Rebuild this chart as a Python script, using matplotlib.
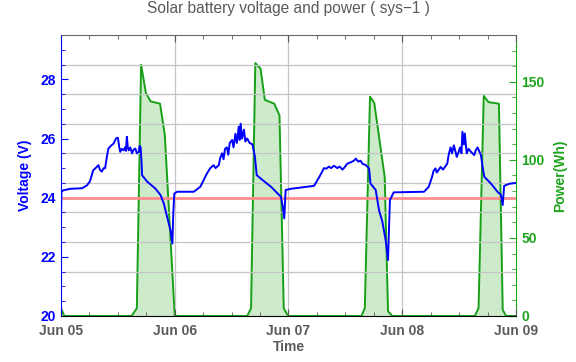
import pandas as pd
import matplotlib
matplotlib.use('Agg')
from matplotlib import pyplot as plt
import matplotlib.dates as mdates
from matplotlib.ticker import MultipleLocator

plt.rcParams['font.family'] = ['Liberation Sans', 'DejaVu Sans']

START = pd.Timestamp('2016-06-05')

# battery voltage, hours since Jun 05 00:00
volt_hours = [0.0, 0.1, 0.5, 2.0, 4.5, 5.5, 6.1, 6.8, 7.3, 7.9, 8.2, 8.6, 9.0, 9.3, 9.7,
              10.0, 10.5, 11.1, 11.6, 12.0, 12.3, 12.5, 12.8, 13.2, 13.5, 13.7, 13.9,
              14.1, 14.3, 14.6, 15.0, 15.3, 15.7, 16.0, 16.4, 16.6, 16.8, 17.0, 17.1,
              18.2, 19.9, 21.0, 21.7, 22.0, 22.4, 23.1, 23.5, 23.7, 23.9, 24.5, 28.0,
              29.4, 30.8, 31.5, 32.2, 32.6, 33.3, 33.6, 34.0, 34.3, 34.6, 35.0, 35.3,
              35.6, 36.1, 36.4, 36.8, 37.1, 37.5, 37.7, 37.9, 38.2, 38.6, 38.9, 39.3,
              39.8, 40.4, 40.9, 41.3, 42.5, 44.3, 45.7, 46.4, 46.8, 47.1, 47.4, 48.5,
              53.4, 54.5, 55.5, 56.0, 56.5, 57.0, 57.6, 58.3, 58.8, 59.4, 59.8, 60.4,
              61.2, 61.8, 62.2, 62.7, 63.2, 63.6, 64.3, 65.0, 65.3, 66.4, 67.1, 67.8,
              68.5, 69.0, 69.4, 70.2, 76.6, 77.6, 78.3, 78.6, 79.0, 79.3, 80.1, 80.6,
              81.5, 81.8, 82.2, 82.5, 82.9, 83.5, 83.9, 84.2, 84.5, 84.7, 85.0, 85.2,
              85.6, 86.0, 86.5, 87.2, 87.5, 87.9, 88.3, 88.6, 89.0, 89.3, 90.7, 92.1,
              92.8, 93.2, 93.5, 94.6, 96.0]
voltage = [23.3, 24.2, 24.25, 24.3, 24.32, 24.42, 24.55, 24.93, 25.0, 25.1, 24.95, 24.88,
           25.0, 24.99, 25.4, 25.66, 25.75, 25.83, 26.0, 26.03, 25.7, 25.55, 25.65, 25.6,
           25.7, 25.58, 26.06, 25.7, 25.6, 25.7, 25.5, 25.62, 25.66, 25.5, 25.55, 25.75,
           25.7, 25.2, 24.76, 24.54, 24.31, 24.09, 23.8, 23.6, 23.35, 22.9, 22.45, 23.5,
           24.14, 24.2, 24.2, 24.37, 24.82, 25.0, 25.1, 25.0, 25.1, 25.35, 25.5, 25.3,
           25.65, 25.7, 25.45, 25.85, 25.95, 25.7, 26.16, 25.85, 26.4, 25.95, 26.5, 26.0,
           26.3, 25.9, 26.0, 25.85, 25.8, 25.4, 24.76, 24.6, 24.37, 24.14, 24.03, 23.7,
           23.3, 24.26, 24.3, 24.4, 24.7, 25.0, 24.98, 25.05, 25.0, 25.08, 25.0, 25.05,
           24.95, 25.02, 25.15, 25.2, 25.25, 25.32, 25.22, 25.25, 25.15, 25.1, 24.99,
           24.48, 24.26, 23.58, 23.19, 22.57, 21.89, 23.92, 24.18, 24.2, 24.37, 24.71,
           24.9, 24.99, 24.85, 25.04, 24.95, 25.15, 25.45, 25.7, 25.5, 25.77, 25.38,
           25.55, 25.7, 25.5, 26.23, 25.8, 26.17, 25.5, 25.65, 25.55, 25.44, 25.6, 25.7,
           25.55, 25.44, 25.0, 24.71, 24.48, 24.2, 24.1, 23.75, 24.4, 24.47, 24.5]

# solar power
power_hours = [0.0, 0.7, 14.9, 16.0, 16.9, 17.9, 18.9, 20.9, 21.9, 24.0,
               39.3, 40.1, 41.0, 42.1, 43.0, 45.0, 46.1, 47.0, 47.9,
               63.4, 64.1, 65.2, 66.1, 68.3, 69.0, 69.9,
               87.3, 88.1, 89.2, 90.2, 92.4, 93.2, 93.9, 96.0]
power = [5, 0, 0, 5, 161, 143, 137.5, 136, 116, 0,
         0, 5, 162, 158.5, 138.5, 136, 128.5, 5, 0,
         0, 5, 140.5, 136.5, 89, 3, 0,
         0, 5, 141, 137, 136, 4, 0, 0]

voltage_limit = 24
grid_levels = [21.5, 22.5, 23.5, 24.5, 25.5, 26.5, 27.5, 28.5]

BLUE = '#0000ff'
GREEN = '#1ea51e'
GRAY = '#5a5a5a'

t_volt = START + pd.to_timedelta(volt_hours, unit='h')
t_power = START + pd.to_timedelta(power_hours, unit='h')

fig = plt.figure(figsize=(5.76, 3.62), dpi=100)
ax1 = fig.add_axes([0.1059, 0.1271, 0.7899, 0.7762])
ax2 = ax1.twinx()
ax1.set_zorder(ax2.get_zorder() + 1)
ax1.patch.set_visible(False)

ax2.fill_between(t_power, power, 0, color='#cdebcb', lw=0)
ax2.plot(t_power, power, color='#17a017', lw=1.4)

for lvl in grid_levels:
    ax1.axhline(lvl, color='#c4c4c4', lw=0.9, zorder=0)
for d in range(1, 4):
    ax1.axvline(START + pd.Timedelta(days=d), color='#c4c4c4', lw=0.9, zorder=0)
ax1.axhline(voltage_limit, color='#ff8c8c', lw=2, zorder=2)
ax1.plot(t_volt, voltage, color=BLUE, lw=1.4, zorder=3)

ax1.set_xlim(START, START + pd.Timedelta(days=4))
ax1.set_ylim(20, 29.5)
ax2.set_ylim(0, 180)

ax1.xaxis.set_major_locator(mdates.DayLocator())
ax1.xaxis.set_minor_locator(mdates.HourLocator(byhour=[6, 12, 18]))
ax1.xaxis.set_major_formatter(mdates.DateFormatter('%b %d'))
ax1.yaxis.set_major_locator(MultipleLocator(2))
ax1.yaxis.set_minor_locator(MultipleLocator(0.5))
ax2.yaxis.set_major_locator(MultipleLocator(50))
ax2.yaxis.set_minor_locator(MultipleLocator(10))

ax1.tick_params(axis='x', which='both', direction='in', top=True, colors='#555555',
                labelcolor=GRAY)
ax1.tick_params(axis='x', which='major', length=5, pad=6)
ax1.tick_params(axis='x', which='minor', length=3)
ax1.tick_params(axis='y', which='both', direction='in', colors=BLUE, right=False)
ax1.tick_params(axis='y', which='major', length=5, pad=4)
ax1.tick_params(axis='y', which='minor', length=3)
ax2.tick_params(axis='y', which='both', direction='in', colors=GREEN)
ax2.tick_params(axis='y', which='major', length=5, pad=4)
ax2.tick_params(axis='y', which='minor', length=3)

for lab in ax1.get_xticklabels() + ax1.get_yticklabels() + ax2.get_yticklabels():
    lab.set_fontweight('bold')
    lab.set_fontsize(10)

ax1.spines['left'].set_color(BLUE)
ax1.spines['bottom'].set_color('black')
ax1.spines['top'].set_color('#666666')
ax1.spines['right'].set_visible(False)
ax2.spines['right'].set_color(GREEN)
ax2.spines['left'].set_visible(False)
ax2.spines['top'].set_visible(False)
ax2.spines['bottom'].set_visible(False)

ax1.set_xlabel('Time', color=GRAY, fontweight='bold', fontsize=10, labelpad=1)
ax1.set_ylabel('Voltage (V)', color=BLUE, fontweight='bold', fontsize=10, labelpad=6)
ax2.set_ylabel('Power(Wh)', color=GREEN, fontweight='bold', fontsize=10, labelpad=6)
fig.suptitle('Solar battery voltage and power ( sys\u22121 )', color=GRAY,
             fontsize=11.2, y=0.997)

fig.savefig('out.png', dpi=100)
